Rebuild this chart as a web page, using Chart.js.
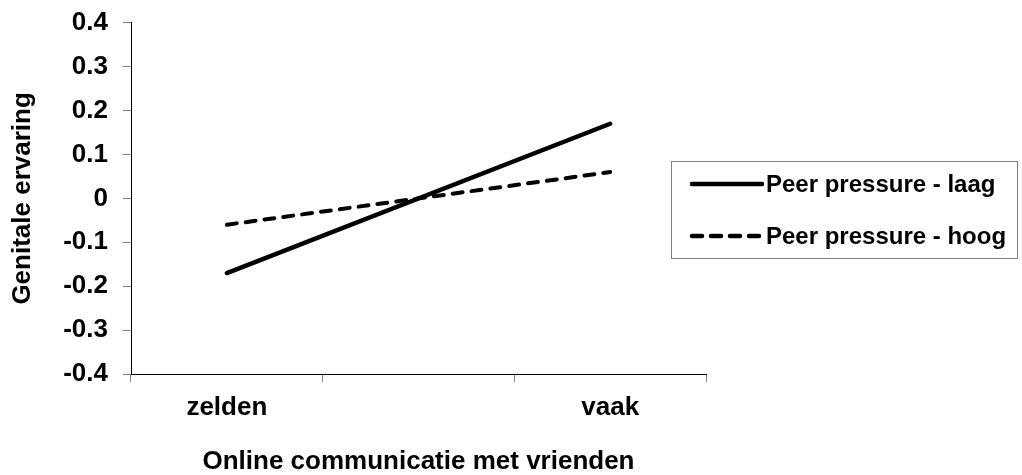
<!DOCTYPE html>
<html>
<head>
<meta charset="utf-8">
<script src="https://cdn.jsdelivr.net/npm/chart.js@4/dist/chart.umd.min.js"></script>
<style>
  html, body { margin: 0; padding: 0; background: #fff; }
  #wrap { width: 1022px; height: 475px; position: relative; }
</style>
</head>
<body>
<div id="wrap"><canvas id="chart"></canvas></div>
<script>
// categorieen op de x-as (middelste is leeg, zoals in Excel)
const categories = ['zelden', '', 'vaak'];
const seriesNames = ['Peer pressure - laag', 'Peer pressure - hoog'];
const laagValues = [-0.17, null, 0.17];
const hoogValues = [-0.06, null, 0.06];
const yTicks = [-0.4, -0.3, -0.2, -0.1, 0, 0.1, 0.2, 0.3, 0.4];

const FONT = "'Liberation Sans', Arial, sans-serif";

// eigen legenda met lijnstijl en kader
const boxLegend = {
    id: 'boxLegend',
    afterDraw(chart) {
        const ctx = chart.ctx;
        const x0 = 671, y0 = 161, w = 346, h = 97;
        ctx.save();
        ctx.strokeStyle = '#808080';
        ctx.lineWidth = 1;
        ctx.strokeRect(x0 + 0.5, y0 + 0.5, w, h);

        const rows = [184, 236];
        chart.data.datasets.forEach((ds, i) => {
            const y = rows[i];
            ctx.beginPath();
            ctx.strokeStyle = ds.borderColor;
            ctx.lineWidth = 4.5;
            ctx.lineCap = 'round';
            ctx.setLineDash(ds.borderDash || []);
            ctx.moveTo(692, y);
            ctx.lineTo(762, y);
            ctx.stroke();
            ctx.setLineDash([]);
            ctx.fillStyle = '#000';
            ctx.font = 'bold 24px ' + FONT;
            ctx.textBaseline = 'middle';
            ctx.textAlign = 'left';
            ctx.fillText(ds.label, 766, y + 1);
        });
        ctx.restore();
    }
};

new Chart(document.getElementById('chart'), {
    type: 'line',
    data: {
        labels: categories,
        datasets: [
            {
                label: seriesNames[0],
                data: laagValues,
                borderColor: '#000',
                borderWidth: 4.5,
                borderCapStyle: 'round',
                pointRadius: 0,
                spanGaps: true,
                tension: 0
            },
            {
                label: seriesNames[1],
                data: hoogValues,
                borderColor: '#000',
                borderWidth: 4,
                borderDash: [10, 9],
                borderCapStyle: 'round',
                pointRadius: 0,
                spanGaps: true,
                tension: 0
            }
        ]
    },
    options: {
        responsive: true,
        maintainAspectRatio: false,
        animation: false,
        layout: { padding: { left: 0, top: 22, right: 316, bottom: 0 } },
        plugins: {
            legend: { display: false },
            tooltip: { enabled: false }
        },
        scales: {
            x: {
                offset: true,
                afterFit: (s) => { s.height = 101; },
                grid: {
                    offset: true,
                    drawOnChartArea: false,
                    drawTicks: true,
                    tickLength: 8,
                    color: '#808080'
                },
                border: { color: '#000', width: 1 },
                ticks: {
                    color: '#000',
                    padding: 10,
                    maxRotation: 0,
                    font: { family: FONT, size: 26, weight: 'bold' }
                },
                title: {
                    display: true,
                    text: 'Online communicatie met vrienden',
                    color: '#000',
                    padding: { top: 0, bottom: 0 },
                    font: { family: FONT, size: 26, weight: 'bold', lineHeight: 1 }
                }
            },
            y: {
                min: -0.4,
                max: 0.4,
                afterFit: (s) => { s.width = 131; },
                afterBuildTicks: (s) => { s.ticks = yTicks.map(v => ({ value: v })); },
                grid: {
                    drawOnChartArea: false,
                    drawTicks: true,
                    tickLength: 8,
                    color: '#808080'
                },
                border: { color: '#000', width: 1 },
                ticks: {
                    color: '#000',
                    padding: 15,
                    font: { family: FONT, size: 26, weight: 'bold', lineHeight: 0.6 },
                    callback: (v) => String(Math.round(v * 10) / 10)
                },
                title: {
                    display: true,
                    text: 'Genitale ervaring',
                    color: '#000',
                    padding: { top: 7, bottom: 0 },
                    font: { family: FONT, size: 26, weight: 'bold' }
                }
            }
        }
    },
    plugins: [boxLegend]
});
</script>
</body>
</html>
